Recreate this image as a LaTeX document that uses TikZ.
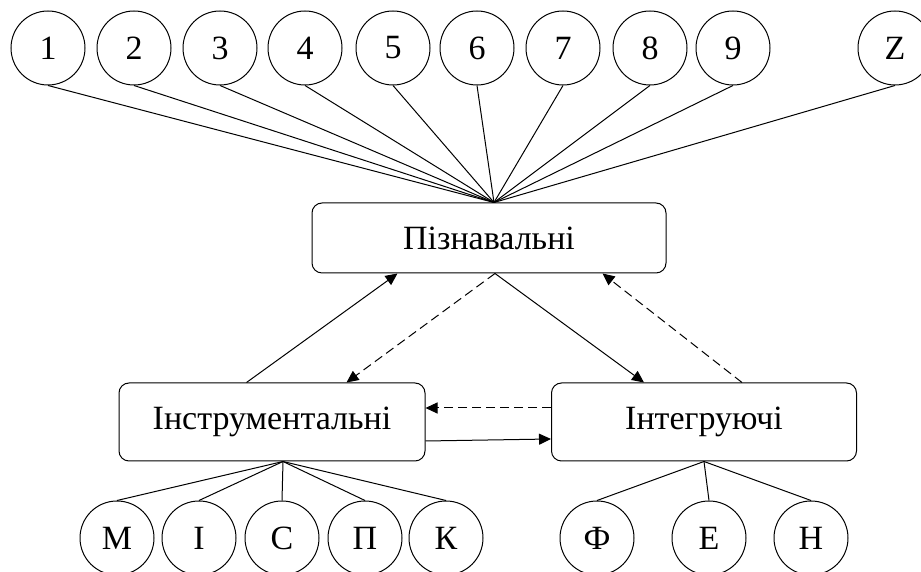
\documentclass[tikz,border=0pt]{standalone}
\usepackage{fontspec}
\setmainfont{Liberation Serif}
\usetikzlibrary{arrows.meta, calc}

\begin{document}
\begin{tikzpicture}[x=1pt, y=1pt, line width=1pt,
		font=\fontsize{34}{40}\selectfont,
		ring/.style={draw, circle, minimum size=74pt, inner sep=0pt},
		group/.style={draw, rounded corners=10pt, minimum height=70pt},
		tip/.style={-{Triangle[length=12pt, width=11pt]}},
		dashline/.style={dash pattern=on 9pt off 5pt}]
	\useasboundingbox (0,0) rectangle (921,572);
	% top row
	\node [ring] (n1) at (48,524) {1};
	\node [ring] (n2) at (134,524) {2};
	\node [ring] (n3) at (220,524) {3};
	\node [ring] (n4) at (305,524) {4};
	\node [ring] (n5) at (393,524) {5};
	\node [ring] (n6) at (477,524) {6};
	\node [ring] (n7) at (563,524) {7};
	\node [ring] (n8) at (650,524) {8};
	\node [ring] (n9) at (733,524) {9};
	\node [ring] (nZ) at (895,524) {Z};
	% main blocks
	\node [group, minimum width=354pt] (pizn) at (489,334) {Пізнавальні};
	\node [group, minimum width=306pt, minimum height=78pt] (instr) at (272,150) {Інструментальні};
	\node [group, minimum width=305pt, minimum height=78pt] (integr) at (704,150) {Інтегруючі};
	% bottom row
	\node [ring] (m) at (117,34) {М};
	\node [ring] (i) at (199,34) {І};
	\node [ring] (s) at (282,34) {С};
	\node [ring] (p) at (365,34) {П};
	\node [ring] (k) at (446,34) {К};
	\node [ring] (f) at (597,34) {Ф};
	\node [ring] (e) at (709,34) {Е};
	\node [ring] (h) at (811,34) {Н};
	\coordinate (hub) at ($(pizn.north)+(5,0)$);
	\coordinate (foot) at ($(instr.south)+(11,0)$);
	\draw (n1.south) -- (hub);
	\draw (n2.south) -- (hub);
	\draw (n3.south) -- (hub);
	\draw (n4.south) -- (hub);
	\draw (n5.south) -- (hub);
	\draw (n6.south) -- (hub);
	\draw (n7.south) -- (hub);
	\draw (n8.south) -- (hub);
	\draw (n9.south) -- (hub);
	\draw (nZ.south) -- (hub);
	\draw [tip] ($(instr.north west)+(128,0)$) -- ($(pizn.south west)+(86,0)$);
	\draw [tip, dashline] ($(pizn.south)+(6,0)$) -- ($(instr.north west)+(228,0)$);
	\draw [tip] ($(pizn.south)+(6,0)$) -- ($(integr.north west)+(93,0)$);
	\draw [tip, dashline] ($(integr.north west)+(191,0)$) -- ($(pizn.south west)+(291,0)$);
	\draw [tip, dashline] ($(integr.west)+(0,14)$) -- ($(instr.east)+(0,14)$);
	\draw [tip] ($(instr.east)+(0,-19)$) -- ($(integr.west)+(0,-17)$);
	\draw (foot) -- (m.north);
	\draw (foot) -- (i.north);
	\draw (foot) -- (s.north);
	\draw (foot) -- (p.north);
	\draw (foot) -- (k.north);
	\draw (integr.south) -- (f.north);
	\draw (integr.south) -- (e.north);
	\draw (integr.south) -- (h.north);
\end{tikzpicture}
\end{document}
